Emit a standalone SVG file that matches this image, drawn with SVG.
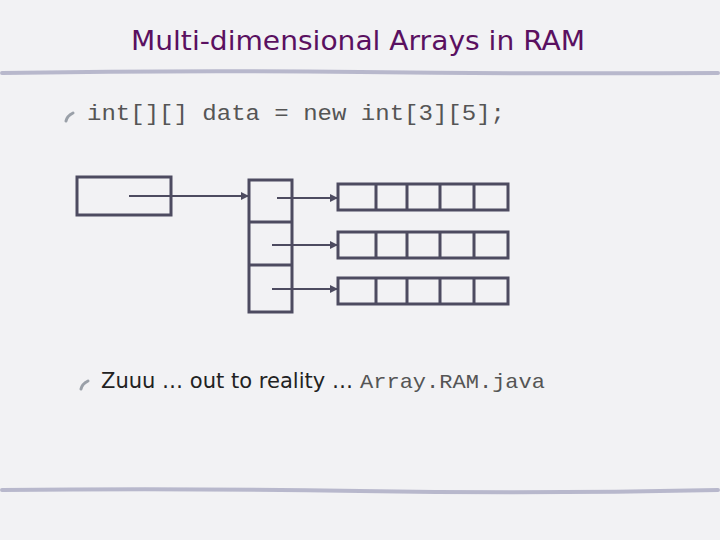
<svg xmlns="http://www.w3.org/2000/svg" width="720" height="540" viewBox="0 0 720 540">
<style>
.b{fill:none;stroke:#4d4b60;stroke-width:3}
.c{stroke:#4d4b60;stroke-width:2;fill:none}
.rule{fill:none;stroke:#b8b8cc;stroke-width:4;stroke-linecap:round}
.bul{fill:none;stroke:#9aa0a8;stroke-width:3;stroke-linecap:round}
</style>
<defs><marker id="a" markerWidth="8" markerHeight="8" refX="7" refY="4" orient="auto" markerUnits="userSpaceOnUse"><path d="M0,0 L8,4 L0,8 z" fill="#4d4b60"/></marker></defs>
<rect width="720" height="540" fill="#f2f2f4"/>
<text x="131" y="50" textLength="454" lengthAdjust="spacingAndGlyphs" font-family="DejaVu Sans, sans-serif" font-size="27" fill="#5a1060">Multi-dimensional Arrays in RAM</text>
<path class="rule" d="M2,73 Q180,70 360,72 T718,73"/>
<path class="rule" d="M2,490 Q180,488 360,491 T718,490"/>
<path class="bul" d="M66,121 q1,-5 7,-8"/>
<text x="87" y="120" textLength="418" lengthAdjust="spacingAndGlyphs" font-family="Liberation Mono, monospace" font-size="22" fill="#555">int[][] data = new int[3][5];</text>
<path class="bul" d="M81,389 q1,-5 7,-8"/>
<text x="101" y="388" font-family="DejaVu Sans, sans-serif" font-size="21" fill="#222"><tspan textLength="252" lengthAdjust="spacingAndGlyphs">Zuuu … out to reality …</tspan><tspan x="360" textLength="185" lengthAdjust="spacingAndGlyphs" font-family="Liberation Mono, monospace" fill="#555">Array.RAM.java</tspan></text>
<g id="ref"><rect class="b" x="77" y="177" width="94" height="38"/></g>
<g id="outer"><rect class="b" x="249" y="180" width="43" height="132"/><path class="b" d="M249,222H292M249,265H292"/></g>
<g id="row0"><rect class="b" x="338" y="184" width="170" height="26"/><path class="b" d="M376,184V210M407,184V210M440,184V210M474,184V210"/></g>
<g id="row1"><rect class="b" x="338" y="232" width="170" height="26"/><path class="b" d="M376,232V258M407,232V258M440,232V258M474,232V258"/></g>
<g id="row2"><rect class="b" x="338" y="278" width="170" height="26"/><path class="b" d="M376,278V304M407,278V304M440,278V304M474,278V304"/></g>
<g id="connectors">
<path class="c" d="M129,196H248" marker-end="url(#a)"/>
<path class="c" d="M277,198H337" marker-end="url(#a)"/>
<path class="c" d="M272,245H337" marker-end="url(#a)"/>
<path class="c" d="M272,289H337" marker-end="url(#a)"/>
</g>
</svg>
